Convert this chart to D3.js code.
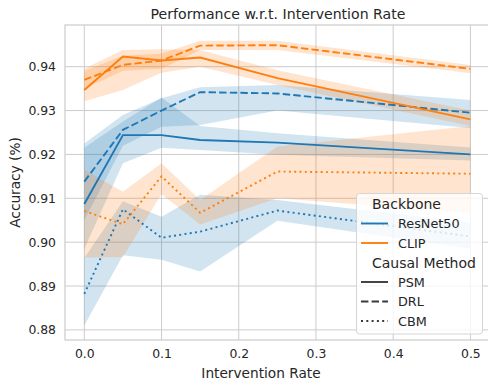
<!DOCTYPE html>
<html>
<head>
<meta charset="utf-8">
<script src="https://cdn.jsdelivr.net/npm/d3@7"></script>
<style>
  body { margin: 0; background: #fff; }
  text { font-family: "DejaVu Sans", sans-serif; fill: #262626; }
</style>
</head>
<body>
<script>
// intervention rates on the x axis
var rates = [0, 0.05, 0.1, 0.15, 0.25, 0.5];

// ResNet50 backbone
var resPsm   = [0.9087, 0.9244, 0.9244, 0.9233, 0.9227, 0.9200];
var resPsmHi = [0.9215, 0.9275, 0.9330, 0.9265, 0.9248, 0.9216];
var resPsmLo = [0.8985, 0.9180, 0.9215, 0.9210, 0.9199, 0.9186];
var resDrl   = [0.9138, 0.9256, 0.9300, 0.9342, 0.9339, 0.9295];
var resDrlHi = [0.9225, 0.9290, 0.9328, 0.9353, 0.9358, 0.9324];
var resDrlLo = [0.9050, 0.9220, 0.9263, 0.9267, 0.9300, 0.9260];
var resCbm   = [0.8882, 0.9075, 0.9010, 0.9024, 0.9072, 0.9013];
var resCbmHi = [0.8964, 0.9093, 0.9058, 0.9108, 0.9096, 0.9045];
var resCbmLo = [0.8810, 0.8970, 0.8960, 0.8933, 0.9049, 0.8985];

// CLIP backbone
var clipPsm   = [0.9347, 0.9423, 0.9414, 0.9421, 0.9374, 0.9280];
var clipPsmHi = [0.9395, 0.9438, 0.9440, 0.9438, 0.9392, 0.9300];
var clipPsmLo = [0.9321, 0.9347, 0.9386, 0.9400, 0.9358, 0.9265];
var clipDrl   = [0.9370, 0.9404, 0.9414, 0.9448, 0.9449, 0.9395];
var clipDrlHi = [0.9390, 0.9425, 0.9430, 0.9459, 0.9459, 0.9404];
var clipDrlLo = [0.9350, 0.9390, 0.9395, 0.9438, 0.9438, 0.9385];
var clipCbm   = [0.9071, 0.9041, 0.9150, 0.9067, 0.9161, 0.9156];
var clipCbmHi = [0.9165, 0.9115, 0.9180, 0.9096, 0.9218, 0.9265];
var clipCbmLo = [0.8965, 0.8966, 0.9110, 0.9040, 0.9100, 0.9067];

var xTicks = [0, 0.1, 0.2, 0.3, 0.4, 0.5];
var yTicks = [0.88, 0.89, 0.90, 0.91, 0.92, 0.93, 0.94];

var colors = {ResNet50: "#1f77b4", CLIP: "#ff7f0e"};
var dashes = {PSM: null, DRL: "7.4,3.2", CBM: "2,3.3"};

var series = [
  {bb: "ResNet50", m: "PSM", y: resPsm, hi: resPsmHi, lo: resPsmLo},
  {bb: "ResNet50", m: "DRL", y: resDrl, hi: resDrlHi, lo: resDrlLo},
  {bb: "ResNet50", m: "CBM", y: resCbm, hi: resCbmHi, lo: resCbmLo},
  {bb: "CLIP", m: "PSM", y: clipPsm, hi: clipPsmHi, lo: clipPsmLo},
  {bb: "CLIP", m: "DRL", y: clipDrl, hi: clipDrlHi, lo: clipDrlLo},
  {bb: "CLIP", m: "CBM", y: clipCbm, hi: clipCbmHi, lo: clipCbmLo}
];

var W = 488, H = 381;
var mLeft = 65, mRight = 489.7, mTop = 25, mBottom = 340;

var svg = d3.select("body").append("svg").attr("width", W).attr("height", H);

var x = d3.scaleLinear().domain([-0.025, 0.525]).range([mLeft, mRight]);
var y = d3.scaleLinear().domain([0.8777, 0.9495]).range([mBottom, mTop]);

// grid
svg.append("g").selectAll("line").data(xTicks).enter().append("line")
  .attr("x1", d => x(d)).attr("x2", d => x(d))
  .attr("y1", mTop).attr("y2", mBottom)
  .attr("stroke", "#cccccc").attr("stroke-width", 1);
svg.append("g").selectAll("line").data(yTicks).enter().append("line")
  .attr("x1", mLeft).attr("x2", mRight)
  .attr("y1", d => y(d)).attr("y2", d => y(d))
  .attr("stroke", "#cccccc").attr("stroke-width", 1);

// frame
svg.append("rect").attr("x", mLeft).attr("y", mTop)
  .attr("width", mRight - mLeft).attr("height", mBottom - mTop)
  .attr("fill", "none").attr("stroke", "#cccccc").attr("stroke-width", 1.2);

var xAxis = d3.axisBottom(x).tickValues(xTicks).tickFormat(d3.format(".1f")).tickSize(0).tickPadding(9);
var yAxis = d3.axisLeft(y).tickValues(yTicks).tickFormat(d3.format(".2f")).tickSize(0).tickPadding(9);

var gx = svg.append("g").attr("transform", "translate(0," + mBottom + ")").call(xAxis);
var gy = svg.append("g").attr("transform", "translate(" + mLeft + ",0)").call(yAxis);
[gx, gy].forEach(function(g) {
  g.select(".domain").remove();
  g.selectAll("text").attr("font-size", "12.4px").attr("fill", "#262626")
    .style("font-family", "DejaVu Sans, sans-serif");
});

var area = d3.area()
  .x((d, i) => x(rates[i]))
  .y0(d => y(d[0])).y1(d => y(d[1]));
var line = d3.line().x((d, i) => x(rates[i])).y(d => y(d));

series.forEach(function(s) {
  var pts = s.lo.map((v, i) => [v, s.hi[i]]);
  svg.append("path").datum(pts).attr("d", area)
    .attr("fill", colors[s.bb]).attr("fill-opacity", 0.2).attr("stroke", "none");
});
series.forEach(function(s) {
  svg.append("path").datum(s.y).attr("d", line)
    .attr("fill", "none").attr("stroke", colors[s.bb]).attr("stroke-width", 1.9)
    .attr("stroke-dasharray", dashes[s.m]);
});

// titles
svg.append("text").attr("x", 278).attr("y", 19).attr("text-anchor", "middle")
  .attr("font-size", "14.1px").text("Performance w.r.t. Intervention Rate");
svg.append("text").attr("x", 261).attr("y", 378).attr("text-anchor", "middle")
  .attr("font-size", "13.7px").text("Intervention Rate");
svg.append("text").attr("transform", "translate(20," + ((mTop + mBottom) / 2) + ") rotate(-90)")
  .attr("text-anchor", "middle").attr("font-size", "13.7px").text("Accuracy (%)");

// legend
var lg = svg.append("g");
lg.append("rect").attr("x", 356.5).attr("y", 193.5).attr("width", 126).attr("height", 140.5)
  .attr("rx", 3).attr("fill", "#fff").attr("fill-opacity", 0.8)
  .attr("stroke", "#d5d5d5").attr("stroke-width", 1);

var rows = [
  {label: "Backbone", head: true},
  {label: "ResNet50", color: colors.ResNet50, dash: null},
  {label: "CLIP", color: colors.CLIP, dash: null},
  {label: "Causal Method", head: true},
  {label: "PSM", color: "#3a3a3a", dash: dashes.PSM},
  {label: "DRL", color: "#3a3a3a", dash: dashes.DRL},
  {label: "CBM", color: "#3a3a3a", dash: dashes.CBM}
];
rows.forEach(function(r, i) {
  var cy = 204 + i * 19.5;
  if (r.head) {
    lg.append("text").attr("x", 372).attr("y", cy + 5).attr("font-size", "14px").text(r.label);
  } else {
    lg.append("line").attr("x1", 361).attr("x2", 388).attr("y1", cy).attr("y2", cy)
      .attr("stroke", r.color).attr("stroke-width", 1.9).attr("stroke-dasharray", r.dash);
    lg.append("text").attr("x", 398).attr("y", cy + 4.7).attr("font-size", "12.8px").text(r.label);
  }
});
</script>
</body>
</html>
